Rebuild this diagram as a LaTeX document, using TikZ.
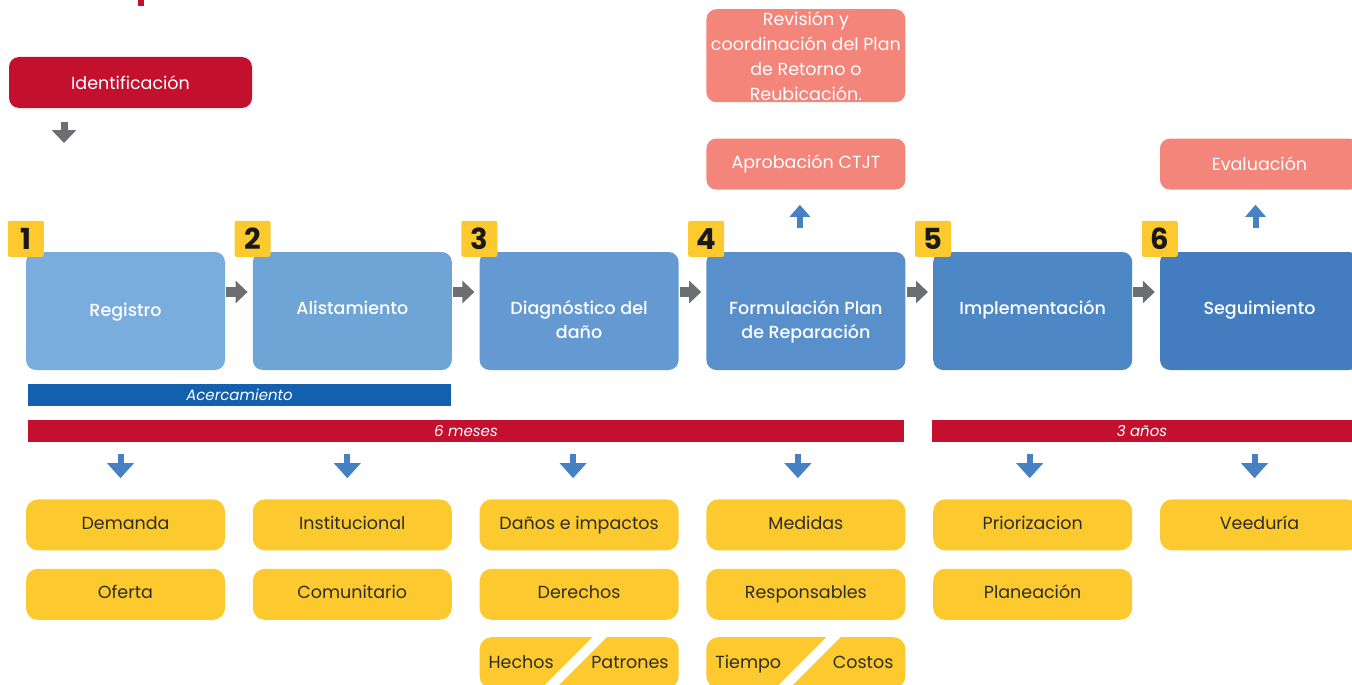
\documentclass[tikz,border=0pt]{standalone}
\usepackage{fontspec}
\setmainfont{Poppins}
\newfontfamily\stepfont{Poppins Medium}
\usetikzlibrary{positioning,arrows.meta,calc}

\definecolor{idred}{RGB}{195,16,47}
\definecolor{barblue}{RGB}{19,97,174}
\definecolor{salmon}{RGB}{243,133,122}
\definecolor{ochre}{RGB}{252,202,46}
\definecolor{arrowgray}{RGB}{109,110,113}
\definecolor{arrowblue}{RGB}{70,129,195}
\definecolor{inkgray}{RGB}{45,45,45}
\definecolor{stepA}{RGB}{122,173,222}
\definecolor{stepB}{RGB}{111,164,215}
\definecolor{stepC}{RGB}{100,154,209}
\definecolor{stepD}{RGB}{89,144,203}
\definecolor{stepE}{RGB}{78,135,198}
\definecolor{stepF}{RGB}{67,125,192}

\begin{document}
\begin{tikzpicture}[x=1pt, y=-1pt, node distance=226.8pt,
    font=\fontsize{17.5}{24.5}\selectfont,
    stepbox/.style={rounded corners=10pt, minimum width=199pt, minimum height=118pt, inner sep=0pt},
    steplabel/.style={anchor=north, text=white, align=center, inner sep=0pt,
        font=\stepfont\fontsize{17.5}{24.5}\selectfont},
    badge/.style={fill=ochre, rounded corners=2pt, minimum size=36pt, inner sep=0pt,
        font=\fontsize{29}{29}\selectfont\bfseries, text=black!90},
    chip/.style={fill=ochre, rounded corners=12pt, minimum width=199pt, minimum height=51pt,
        inner sep=0pt, text=inkgray, text height=12.5pt, text depth=4pt},
    chiptext/.style={inner sep=0pt, text=inkgray, text height=12.5pt, text depth=4pt},
    note/.style={fill=salmon, rounded corners=10pt, minimum width=199pt, minimum height=51pt,
        inner sep=0pt, text=white, align=center},
    band/.style={minimum height=22pt, inner sep=0pt, text=white, font=\fontsize{15}{15}\selectfont\itshape},
    nextstep/.style={arrowgray, line width=10pt, -{Triangle[width=22pt,length=12pt]},
        shorten <=1pt, shorten >=5pt},
    pointdown/.style={arrowblue, line width=6pt, -{Triangle[width=26pt,length=15pt]},
        shorten <=12pt, shorten >=21pt},
    pointup/.style={arrowblue, line width=6pt, -{Triangle[width=20pt,length=12pt]},
        shorten <=24pt, shorten >=15pt},
    pointgray/.style={arrowgray, line width=7pt, -{Triangle[width=24pt,length=13pt]},
        shorten <=14pt}]
    \useasboundingbox (0,0) rectangle (1352,685);
    \clip (0,0) rectangle (1352,685);

    % Title fragment
    \fill[idred] (138,0) rectangle (144,6);

    % Steps
    \node[stepbox, fill=stepA] (S1) at (125.5,311) {};
    \node[stepbox, fill=stepB, right of=S1] (S2) {};
    \node[stepbox, fill=stepC, right of=S2] (S3) {};
    \node[stepbox, fill=stepD, right of=S3] (S4) {};
    \node[stepbox, fill=stepE, right of=S4] (S5) {};
    \node[stepbox, fill=stepF, right of=S5] (S6) {};

    \node[steplabel] (L1) at ($(S1.north)+(0,51)$) {Registro};
    \node[steplabel] (L2) at ($(S2.north)+(0,49)$) {Alistamiento};
    \node[steplabel] (L3) at ($(S3.north)+(0,48)$) {Diagnóstico del\\daño};
    \node[steplabel] (L4) at ($(S4.north)+(0,48)$) {Formulación Plan\\de Reparación};
    \node[steplabel] (L5) at ($(S5.north)+(0,48)$) {Implementación};
    \node[steplabel] (L6) at ($(S6.north)+(0,49)$) {Seguimiento};

    \node[badge] (B1) at ($(S1.north west)+(0,-13)$) {1};
    \node[badge] (B2) at ($(S2.north west)+(0,-13)$) {2};
    \node[badge] (B3) at ($(S3.north west)+(0,-13)$) {3};
    \node[badge] (B4) at ($(S4.north west)+(0,-13)$) {4};
    \node[badge] (B5) at ($(S5.north west)+(0,-13)$) {5};
    \node[badge] (B6) at ($(S6.north west)+(0,-13)$) {6};

    % Top boxes
    \node[fill=idred, rounded corners=10pt, minimum width=243pt, minimum height=51pt,
        inner sep=0pt, text=white] (ident) at (130.5,82.5) {Identificación};
    \coordinate (idtip) at (64,143);
    \node[note] (aprob) [above=62pt of S4] {Aprobación CTJT};
    \node[note, minimum height=93pt, font=\fontsize{17.5}{25}\selectfont] (revis) [above=36pt of aprob]
        {Revisión y\\coordinación del Plan\\de Retorno o\\Reubicación.};
    \node[note] (evalua) [above=62pt of S6] {Evaluación};

    % Bars
    \node[band, fill=barblue, minimum width=423pt] (acerc) at (239.5,394.5) {Acercamiento};
    \node[band, fill=idred, minimum width=876pt] (meses) at (466,431) {6 meses};
    \node[band, fill=idred, minimum width=420pt] (anios) at (1142,431) {3 años};

    % Items
    \node[chip, below=129pt of S1] (demanda) {Demanda};
    \node[chip, below=18pt of demanda] (oferta) {Oferta};
    \node[chip, below=129pt of S2] (instit) {Institucional};
    \node[chip, below=18pt of instit] (comun) {Comunitario};
    \node[chip, below=129pt of S3] (danos) {Daños e impactos};
    \node[chip, below=18pt of danos] (derechos) {Derechos};
    \node[chip, below=17pt of derechos] (hechpat) {};
    \node[chip, below=129pt of S4] (medidas) {Medidas};
    \node[chip, below=18pt of medidas] (respons) {Responsables};
    \node[chip, below=17pt of respons] (tiecos) {};
    \node[chip, below=129pt of S5] (prioriz) {Priorizacion};
    \node[chip, below=18pt of prioriz] (planea) {Planeación};
    \node[chip, below=129pt of S6] (veedur) {Veeduría};

    \fill[white] ($(hechpat.center)+(-46,34)$) -- ++(14,0) -- ++(68,-68) -- ++(-14,0) -- cycle;
    \fill[white] ($(tiecos.center)+(-39,34)$) -- ++(14,0) -- ++(68,-68) -- ++(-14,0) -- cycle;
    \node[chiptext, anchor=west] (hechos) at ($(hechpat.west)+(9,1.5)$) {Hechos};
    \node[chiptext, anchor=east] (patrones) at ($(hechpat.east)+(-10,1.5)$) {Patrones};
    \node[chiptext, anchor=west] (tiempo) at ($(tiecos.west)+(9,1.5)$) {Tiempo};
    \node[chiptext, anchor=east] (costos) at ($(tiecos.east)+(-12,1.5)$) {Costos};

    % Arrows
    \draw[pointgray] (ident.south -| idtip) -- (idtip);
    \draw[nextstep] ([yshift=19pt]S1.east) -- ([yshift=19pt]S2.west);
    \draw[nextstep] ([yshift=19pt]S2.east) -- ([yshift=19pt]S3.west);
    \draw[nextstep] ([yshift=19pt]S3.east) -- ([yshift=19pt]S4.west);
    \draw[nextstep] ([yshift=19pt]S4.east) -- ([yshift=19pt]S5.west);
    \draw[nextstep] ([yshift=19pt]S5.east) -- ([yshift=19pt]S6.west);
    \draw[pointup] ([xshift=-6pt]S4.north) -- ([xshift=-6pt]aprob.south);
    \draw[pointup] ([xshift=-4pt]S6.north) -- ([xshift=-4pt]evalua.south);
    \draw[pointdown] ([xshift=-5pt]S1.south |- meses.south) -- ([xshift=-5pt]S1.south |- demanda.north);
    \draw[pointdown] ([xshift=-5pt]S2.south |- meses.south) -- ([xshift=-5pt]S2.south |- instit.north);
    \draw[pointdown] ([xshift=-6pt]S3.south |- meses.south) -- ([xshift=-6pt]S3.south |- danos.north);
    \draw[pointdown] ([xshift=-8pt]S4.south |- meses.south) -- ([xshift=-8pt]S4.south |- medidas.north);
    \draw[pointdown] ([xshift=-3pt]S5.south |- anios.south) -- ([xshift=-3pt]S5.south |- prioriz.north);
    \draw[pointdown] ([xshift=-5pt]S6.south |- anios.south) -- ([xshift=-5pt]S6.south |- veedur.north);
\end{tikzpicture}
\end{document}
